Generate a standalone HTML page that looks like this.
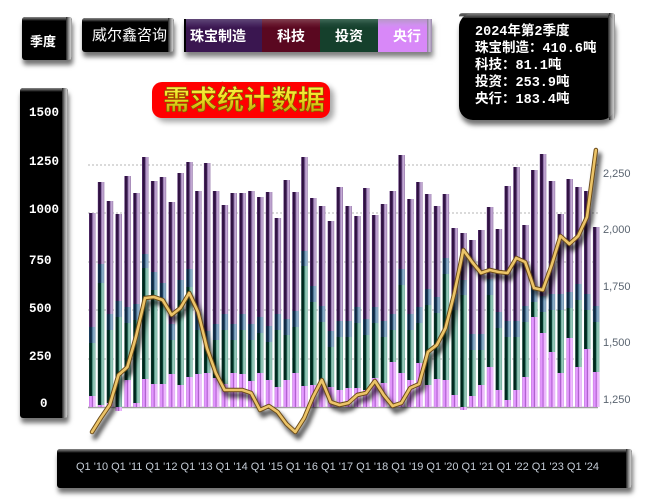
<!DOCTYPE html>
<html><head><meta charset="utf-8">
<style>
html,body{margin:0;padding:0;background:#fff;}
body{width:645px;height:502px;position:relative;overflow:hidden;font-family:"Liberation Sans","Noto Sans CJK SC",sans-serif;}
.bx{position:absolute;background:#000;box-shadow:1px 5px 5px rgba(0,0,0,0.55);border-radius:3px;}
.bx::before{content:"";position:absolute;left:0;right:0;top:0;height:4px;background:linear-gradient(to bottom,#8a8a8a,#3a3a3a 60%,rgba(0,0,0,0));border-radius:3px 3px 0 0;}
.bx::after{content:"";position:absolute;right:0;top:0;bottom:0;width:6px;background:linear-gradient(to right,#222,#9a9a9a 50%,#c8c8c8 80%,#888);border-radius:0 3px 3px 0;}
.wt{position:absolute;color:#fff;white-space:nowrap;}
.ax{position:absolute;color:#fff;white-space:nowrap;font:bold 12.5px "Liberation Mono",monospace;line-height:18px;}
.lg{position:absolute;color:#fff;white-space:nowrap;font:bold 14px "Noto Sans CJK SC",sans-serif;line-height:20px;top:26px;}
svg{position:absolute;left:0;top:0;}
</style></head><body>

<div class="bx" style="left:22px;top:17px;width:50px;height:43px;"></div>
<div class="wt" style="left:30px;top:32px;font:bold 13px 'Noto Sans CJK SC',sans-serif;line-height:18px;">季度</div>

<div class="bx" style="left:82px;top:18px;width:92px;height:34px;"></div>
<div class="wt" style="left:92px;top:25px;font:15px 'Noto Sans CJK SC',sans-serif;line-height:20px;">威尔鑫咨询</div>

<div style="position:absolute;left:184px;top:19px;width:248px;height:33px;box-shadow:1px 5px 5px rgba(0,0,0,0.5);background:#000;">
  <div style="position:absolute;left:2px;top:0;width:76px;height:33px;background:linear-gradient(to bottom,#604878 0,#4a2a62 5px,#3a1650 9px,#3a1650);"></div>
  <div style="position:absolute;left:78px;top:0;width:58px;height:33px;background:linear-gradient(to bottom,#804050 0,#6a1a30 5px,#5a0820 9px,#5a0820);"></div>
  <div style="position:absolute;left:136px;top:0;width:58px;height:33px;background:linear-gradient(to bottom,#406a58 0,#204a38 5px,#15402c 9px,#15402c);"></div>
  <div style="position:absolute;left:194px;top:0;width:49px;height:33px;background:linear-gradient(to bottom,#b898c8 0,#d090f0 6px,#d888f8 9px,#d888f8);"></div>
  <div style="position:absolute;left:243px;top:0;width:5px;height:33px;background:linear-gradient(to right,#8a7a98,#c8b8d8,#9a8aa8);"></div>
</div>
<div class="lg" style="left:190px;">珠宝制造</div>
<div class="lg" style="left:277px;">科技</div>
<div class="lg" style="left:335px;">投资</div>
<div class="lg" style="left:393px;">央行</div>

<div class="bx" style="left:459px;top:13px;width:156px;height:107px;border-radius:14px;"></div>
<div style="position:absolute;left:459px;top:13px;width:156px;height:107px;border-radius:14px;overflow:hidden;">
  <div style="position:absolute;left:0;right:0;top:0;height:5px;background:linear-gradient(to bottom,#8a8a8a,#2a2a2a);"></div>
  <div style="position:absolute;right:0;top:0;bottom:0;width:7px;background:linear-gradient(to right,#222,#9a9a9a 50%,#c8c8c8 80%,#888);"></div>
  <div style="position:absolute;left:6px;right:7px;top:5px;bottom:0;background:#000;border-radius:10px;"></div>
</div>
<div class="wt" style="left:475px;top:24px;font:bold 13.5px 'Liberation Mono','Noto Sans CJK SC',monospace;line-height:17px;">2024年第2季度<br>珠宝制造：410.6吨<br>科技：81.1吨<br>投资：253.9吨<br>央行：183.4吨</div>

<div class="bx" style="left:20px;top:88px;width:48px;height:330px;"></div>
<div class="ax" style="left:29px;top:104px;">1500</div>
<div class="ax" style="left:29px;top:153px;">1250</div>
<div class="ax" style="left:29px;top:201px;">1000</div>
<div class="ax" style="left:29px;top:252px;">750</div>
<div class="ax" style="left:29px;top:300px;">500</div>
<div class="ax" style="left:29px;top:348px;">250</div>
<div class="ax" style="left:40px;top:395px;">0</div>

<div class="bx" style="left:57px;top:449px;width:575px;height:39px;"></div>
<div class="wt" style="left:76px;top:459px;font:11px 'Liberation Sans',sans-serif;line-height:16px;color:#c4ccd6;">Q1 '10 Q1 '11 Q1 '12 Q1 '13 Q1 '14 Q1 '15 Q1 '16 Q1 '17 Q1 '18 Q1 '19 Q1 '20 Q1 '21 Q1 '22 Q1 '23 Q1 '24</div>

<svg width="645" height="502" viewBox="0 0 645 502" xmlns="http://www.w3.org/2000/svg" xmlns:xlink="http://www.w3.org/1999/xlink">
<defs>
<linearGradient id="gp" x1="0" x2="1" y1="0" y2="0">
<stop offset="0" stop-color="#6a4088"/><stop offset="0.15" stop-color="#2a0c3a"/><stop offset="0.45" stop-color="#3a1c50"/><stop offset="0.55" stop-color="#9878b0"/><stop offset="0.8" stop-color="#cdb6dc"/><stop offset="1" stop-color="#8a68a0"/>
</linearGradient>
<linearGradient id="gb" x1="0" x2="1" y1="0" y2="0">
<stop offset="0" stop-color="#305a80"/><stop offset="0.15" stop-color="#0a2038"/><stop offset="0.45" stop-color="#1a3a58"/><stop offset="0.55" stop-color="#6088a8"/><stop offset="0.8" stop-color="#98b8d0"/><stop offset="1" stop-color="#6080a0"/>
</linearGradient>
<linearGradient id="gg" x1="0" x2="1" y1="0" y2="0">
<stop offset="0" stop-color="#1a5040"/><stop offset="0.15" stop-color="#002018"/><stop offset="0.45" stop-color="#003828"/><stop offset="0.55" stop-color="#6aa898"/><stop offset="0.8" stop-color="#a0d0c0"/><stop offset="1" stop-color="#60a090"/>
</linearGradient>
<linearGradient id="gk" x1="0" x2="1" y1="0" y2="0">
<stop offset="0" stop-color="#b868d8"/><stop offset="0.15" stop-color="#e8a0ff"/><stop offset="0.42" stop-color="#d888f8"/><stop offset="0.5" stop-color="#8a40a8"/><stop offset="0.6" stop-color="#e8a0ff"/><stop offset="0.85" stop-color="#f4c8ff"/><stop offset="1" stop-color="#d090f0"/>
</linearGradient>
<linearGradient id="ty" x1="0" x2="0" y1="0" y2="1">
<stop offset="0" stop-color="#ffff60"/><stop offset="0.5" stop-color="#f0e020"/><stop offset="1" stop-color="#b09000"/>
</linearGradient>
<filter id="bl" x="-20%" y="-20%" width="140%" height="140%"><feGaussianBlur stdDeviation="2"/></filter>
<filter id="bl3" x="-20%" y="-40%" width="140%" height="180%"><feGaussianBlur stdDeviation="3"/></filter>
<polyline id="gl" points="92,432 100.8,418 109.7,405 118.5,375 127.4,367 136.2,336 145,298 153.9,297 162.7,300 171.6,315 180.4,308 189.2,293 198.1,312 206.9,348 215.8,373 224.6,390 233.4,390 242.3,390 251.1,393 260,410 268.8,406 277.6,412 286.5,424 295.3,432 304.2,418 313,397 321.8,380 330.7,402 339.5,405 348.4,403 357.2,395 366,393 374.9,381 383.7,395 392.6,406 401.4,403 410.2,388 419.1,384 427.9,352 436.8,345 445.6,328 454.4,293 463.3,250 472.1,262 481,273 489.8,270 498.6,272 507.5,273 516.3,258 525.2,262 534,288 542.8,290 551.7,265 560.5,236 569.4,244 578.2,236 587,217 595.9,150"/>
</defs>

<rect x="156" y="86" width="178" height="36" rx="10" fill="#000" opacity="0.35" filter="url(#bl3)"/>
<rect x="152" y="82" width="178" height="36" rx="10" fill="#f00"/>
<text x="244" y="109.5" text-anchor="middle" font-family="Noto Sans CJK SC, sans-serif" font-weight="bold" font-size="27" fill="#f00" stroke="#f00" stroke-width="8" stroke-linejoin="round">需求统计数据</text>
<text x="244" y="109.5" text-anchor="middle" font-family="Noto Sans CJK SC, sans-serif" font-weight="bold" font-size="27" fill="url(#ty)" stroke="#7a5a00" stroke-width="0.6">需求统计数据</text>

<g stroke="#b4b4b4" stroke-width="1" stroke-dasharray="2,2">
<line x1="88" y1="165" x2="598" y2="165"/>
<line x1="88" y1="213" x2="598" y2="213"/>
<line x1="88" y1="262" x2="598" y2="262"/>
<line x1="88" y1="310" x2="598" y2="310"/>
<line x1="88" y1="359" x2="598" y2="359"/>
</g>
<line x1="88" y1="407.5" x2="598" y2="407.5" stroke="#a0a0a0" stroke-width="1.5"/>

<g font-family="Liberation Sans, sans-serif" font-size="11" fill="#5a6470">
<text x="603" y="177">2,250</text>
<text x="603" y="233">2,000</text>
<text x="603" y="290">1,750</text>
<text x="603" y="346">1,500</text>
<text x="603" y="403">1,250</text>
</g>

<g>
<g transform="translate(89.0,0)"><rect y="213" width="6.5" height="114" fill="url(#gp)"/><rect y="327" width="6.5" height="16" fill="url(#gb)"/><rect y="343" width="6.5" height="53" fill="url(#gg)"/><rect y="396" width="6.5" height="11" fill="url(#gk)"/></g>
<g transform="translate(97.8,0)"><rect y="182" width="6.5" height="82" fill="url(#gp)"/><rect y="264" width="6.5" height="19" fill="url(#gb)"/><rect y="283" width="6.5" height="122" fill="url(#gg)"/><rect y="405" width="6.5" height="2" fill="url(#gk)"/></g>
<g transform="translate(106.7,0)"><rect y="201" width="6.5" height="113" fill="url(#gp)"/><rect y="314" width="6.5" height="16" fill="url(#gb)"/><rect y="330" width="6.5" height="73" fill="url(#gg)"/><rect y="403" width="6.5" height="4" fill="url(#gk)"/></g>
<g transform="translate(115.5,0)"><rect y="214" width="6.5" height="87" fill="url(#gp)"/><rect y="301" width="6.5" height="16" fill="url(#gb)"/><rect y="317" width="6.5" height="90" fill="url(#gg)"/><rect y="407" width="6.5" height="4" fill="url(#gk)"/></g>
<g transform="translate(124.4,0)"><rect y="176" width="6.5" height="131" fill="url(#gp)"/><rect y="307" width="6.5" height="16" fill="url(#gb)"/><rect y="323" width="6.5" height="57" fill="url(#gg)"/><rect y="380" width="6.5" height="27" fill="url(#gk)"/></g>
<g transform="translate(133.2,0)"><rect y="193" width="6.5" height="111" fill="url(#gp)"/><rect y="304" width="6.5" height="16" fill="url(#gb)"/><rect y="320" width="6.5" height="83" fill="url(#gg)"/><rect y="403" width="6.5" height="4" fill="url(#gk)"/></g>
<g transform="translate(142.0,0)"><rect y="157" width="6.5" height="97" fill="url(#gp)"/><rect y="254" width="6.5" height="14" fill="url(#gb)"/><rect y="268" width="6.5" height="111" fill="url(#gg)"/><rect y="379" width="6.5" height="28" fill="url(#gk)"/></g>
<g transform="translate(150.9,0)"><rect y="181" width="6.5" height="91" fill="url(#gp)"/><rect y="272" width="6.5" height="18" fill="url(#gb)"/><rect y="290" width="6.5" height="94" fill="url(#gg)"/><rect y="384" width="6.5" height="23" fill="url(#gk)"/></g>
<g transform="translate(159.7,0)"><rect y="177" width="6.5" height="106" fill="url(#gp)"/><rect y="283" width="6.5" height="17" fill="url(#gb)"/><rect y="300" width="6.5" height="84" fill="url(#gg)"/><rect y="384" width="6.5" height="23" fill="url(#gk)"/></g>
<g transform="translate(168.6,0)"><rect y="202" width="6.5" height="122" fill="url(#gp)"/><rect y="324" width="6.5" height="16" fill="url(#gb)"/><rect y="340" width="6.5" height="34" fill="url(#gg)"/><rect y="374" width="6.5" height="33" fill="url(#gk)"/></g>
<g transform="translate(177.4,0)"><rect y="173" width="6.5" height="107" fill="url(#gp)"/><rect y="280" width="6.5" height="20" fill="url(#gb)"/><rect y="300" width="6.5" height="85" fill="url(#gg)"/><rect y="385" width="6.5" height="22" fill="url(#gk)"/></g>
<g transform="translate(186.2,0)"><rect y="162" width="6.5" height="107" fill="url(#gp)"/><rect y="269" width="6.5" height="18" fill="url(#gb)"/><rect y="287" width="6.5" height="90" fill="url(#gg)"/><rect y="377" width="6.5" height="30" fill="url(#gk)"/></g>
<g transform="translate(195.1,0)"><rect y="191" width="6.5" height="123" fill="url(#gp)"/><rect y="314" width="6.5" height="16" fill="url(#gb)"/><rect y="330" width="6.5" height="44" fill="url(#gg)"/><rect y="374" width="6.5" height="33" fill="url(#gk)"/></g>
<g transform="translate(203.9,0)"><rect y="163" width="6.5" height="168" fill="url(#gp)"/><rect y="331" width="6.5" height="16" fill="url(#gb)"/><rect y="347" width="6.5" height="26" fill="url(#gg)"/><rect y="373" width="6.5" height="34" fill="url(#gk)"/></g>
<g transform="translate(212.8,0)"><rect y="191" width="6.5" height="133" fill="url(#gp)"/><rect y="324" width="6.5" height="16" fill="url(#gb)"/><rect y="340" width="6.5" height="38" fill="url(#gg)"/><rect y="378" width="6.5" height="29" fill="url(#gk)"/></g>
<g transform="translate(221.6,0)"><rect y="205" width="6.5" height="109" fill="url(#gp)"/><rect y="314" width="6.5" height="16" fill="url(#gb)"/><rect y="330" width="6.5" height="54" fill="url(#gg)"/><rect y="384" width="6.5" height="23" fill="url(#gk)"/></g>
<g transform="translate(230.4,0)"><rect y="193" width="6.5" height="131" fill="url(#gp)"/><rect y="324" width="6.5" height="16" fill="url(#gb)"/><rect y="340" width="6.5" height="33" fill="url(#gg)"/><rect y="373" width="6.5" height="34" fill="url(#gk)"/></g>
<g transform="translate(239.3,0)"><rect y="193" width="6.5" height="121" fill="url(#gp)"/><rect y="314" width="6.5" height="16" fill="url(#gb)"/><rect y="330" width="6.5" height="44" fill="url(#gg)"/><rect y="374" width="6.5" height="33" fill="url(#gk)"/></g>
<g transform="translate(248.1,0)"><rect y="191" width="6.5" height="133" fill="url(#gp)"/><rect y="324" width="6.5" height="16" fill="url(#gb)"/><rect y="340" width="6.5" height="41" fill="url(#gg)"/><rect y="381" width="6.5" height="26" fill="url(#gk)"/></g>
<g transform="translate(257.0,0)"><rect y="197" width="6.5" height="120" fill="url(#gp)"/><rect y="317" width="6.5" height="16" fill="url(#gb)"/><rect y="333" width="6.5" height="40" fill="url(#gg)"/><rect y="373" width="6.5" height="34" fill="url(#gk)"/></g>
<g transform="translate(265.8,0)"><rect y="192" width="6.5" height="134" fill="url(#gp)"/><rect y="326" width="6.5" height="16" fill="url(#gb)"/><rect y="342" width="6.5" height="38" fill="url(#gg)"/><rect y="380" width="6.5" height="27" fill="url(#gk)"/></g>
<g transform="translate(274.6,0)"><rect y="218" width="6.5" height="96" fill="url(#gp)"/><rect y="314" width="6.5" height="16" fill="url(#gb)"/><rect y="330" width="6.5" height="57" fill="url(#gg)"/><rect y="387" width="6.5" height="20" fill="url(#gk)"/></g>
<g transform="translate(283.5,0)"><rect y="180" width="6.5" height="139" fill="url(#gp)"/><rect y="319" width="6.5" height="16" fill="url(#gb)"/><rect y="335" width="6.5" height="45" fill="url(#gg)"/><rect y="380" width="6.5" height="27" fill="url(#gk)"/></g>
<g transform="translate(292.3,0)"><rect y="192" width="6.5" height="119" fill="url(#gp)"/><rect y="311" width="6.5" height="16" fill="url(#gb)"/><rect y="327" width="6.5" height="46" fill="url(#gg)"/><rect y="373" width="6.5" height="34" fill="url(#gk)"/></g>
<g transform="translate(301.2,0)"><rect y="157" width="6.5" height="94" fill="url(#gp)"/><rect y="251" width="6.5" height="15" fill="url(#gb)"/><rect y="266" width="6.5" height="120" fill="url(#gg)"/><rect y="386" width="6.5" height="21" fill="url(#gk)"/></g>
<g transform="translate(310.0,0)"><rect y="198" width="6.5" height="88" fill="url(#gp)"/><rect y="286" width="6.5" height="16" fill="url(#gb)"/><rect y="302" width="6.5" height="83" fill="url(#gg)"/><rect y="385" width="6.5" height="22" fill="url(#gk)"/></g>
<g transform="translate(318.8,0)"><rect y="206" width="6.5" height="100" fill="url(#gp)"/><rect y="306" width="6.5" height="16" fill="url(#gb)"/><rect y="322" width="6.5" height="61" fill="url(#gg)"/><rect y="383" width="6.5" height="24" fill="url(#gk)"/></g>
<g transform="translate(327.7,0)"><rect y="221" width="6.5" height="110" fill="url(#gp)"/><rect y="331" width="6.5" height="16" fill="url(#gb)"/><rect y="347" width="6.5" height="40" fill="url(#gg)"/><rect y="387" width="6.5" height="20" fill="url(#gk)"/></g>
<g transform="translate(336.5,0)"><rect y="187" width="6.5" height="134" fill="url(#gp)"/><rect y="321" width="6.5" height="16" fill="url(#gb)"/><rect y="337" width="6.5" height="53" fill="url(#gg)"/><rect y="390" width="6.5" height="17" fill="url(#gk)"/></g>
<g transform="translate(345.4,0)"><rect y="206" width="6.5" height="115" fill="url(#gp)"/><rect y="321" width="6.5" height="16" fill="url(#gb)"/><rect y="337" width="6.5" height="51" fill="url(#gg)"/><rect y="388" width="6.5" height="19" fill="url(#gk)"/></g>
<g transform="translate(354.2,0)"><rect y="216" width="6.5" height="91" fill="url(#gp)"/><rect y="307" width="6.5" height="16" fill="url(#gb)"/><rect y="323" width="6.5" height="65" fill="url(#gg)"/><rect y="388" width="6.5" height="19" fill="url(#gk)"/></g>
<g transform="translate(363.0,0)"><rect y="188" width="6.5" height="131" fill="url(#gp)"/><rect y="319" width="6.5" height="16" fill="url(#gb)"/><rect y="335" width="6.5" height="55" fill="url(#gg)"/><rect y="390" width="6.5" height="17" fill="url(#gk)"/></g>
<g transform="translate(371.9,0)"><rect y="215" width="6.5" height="92" fill="url(#gp)"/><rect y="307" width="6.5" height="16" fill="url(#gb)"/><rect y="323" width="6.5" height="55" fill="url(#gg)"/><rect y="378" width="6.5" height="29" fill="url(#gk)"/></g>
<g transform="translate(380.7,0)"><rect y="204" width="6.5" height="117" fill="url(#gp)"/><rect y="321" width="6.5" height="16" fill="url(#gb)"/><rect y="337" width="6.5" height="46" fill="url(#gg)"/><rect y="383" width="6.5" height="24" fill="url(#gk)"/></g>
<g transform="translate(389.6,0)"><rect y="191" width="6.5" height="123" fill="url(#gp)"/><rect y="314" width="6.5" height="16" fill="url(#gb)"/><rect y="330" width="6.5" height="32" fill="url(#gg)"/><rect y="362" width="6.5" height="45" fill="url(#gk)"/></g>
<g transform="translate(398.4,0)"><rect y="155" width="6.5" height="114" fill="url(#gp)"/><rect y="269" width="6.5" height="16" fill="url(#gb)"/><rect y="285" width="6.5" height="88" fill="url(#gg)"/><rect y="373" width="6.5" height="34" fill="url(#gk)"/></g>
<g transform="translate(407.2,0)"><rect y="199" width="6.5" height="115" fill="url(#gp)"/><rect y="314" width="6.5" height="16" fill="url(#gb)"/><rect y="330" width="6.5" height="50" fill="url(#gg)"/><rect y="380" width="6.5" height="27" fill="url(#gk)"/></g>
<g transform="translate(416.1,0)"><rect y="182" width="6.5" height="125" fill="url(#gp)"/><rect y="307" width="6.5" height="16" fill="url(#gb)"/><rect y="323" width="6.5" height="40" fill="url(#gg)"/><rect y="363" width="6.5" height="44" fill="url(#gk)"/></g>
<g transform="translate(424.9,0)"><rect y="194" width="6.5" height="95" fill="url(#gp)"/><rect y="289" width="6.5" height="16" fill="url(#gb)"/><rect y="305" width="6.5" height="80" fill="url(#gg)"/><rect y="385" width="6.5" height="22" fill="url(#gk)"/></g>
<g transform="translate(433.8,0)"><rect y="206" width="6.5" height="91" fill="url(#gp)"/><rect y="297" width="6.5" height="16" fill="url(#gb)"/><rect y="313" width="6.5" height="66" fill="url(#gg)"/><rect y="379" width="6.5" height="28" fill="url(#gk)"/></g>
<g transform="translate(442.6,0)"><rect y="194" width="6.5" height="64" fill="url(#gp)"/><rect y="258" width="6.5" height="16" fill="url(#gb)"/><rect y="274" width="6.5" height="106" fill="url(#gg)"/><rect y="380" width="6.5" height="27" fill="url(#gk)"/></g>
<g transform="translate(451.4,0)"><rect y="228" width="6.5" height="66" fill="url(#gp)"/><rect y="294" width="6.5" height="16" fill="url(#gb)"/><rect y="310" width="6.5" height="85" fill="url(#gg)"/><rect y="395" width="6.5" height="12" fill="url(#gk)"/></g>
<g transform="translate(460.3,0)"><rect y="233" width="6.5" height="47" fill="url(#gp)"/><rect y="280" width="6.5" height="15" fill="url(#gb)"/><rect y="295" width="6.5" height="112" fill="url(#gg)"/><rect y="407" width="6.5" height="3" fill="url(#gk)"/></g>
<g transform="translate(469.1,0)"><rect y="240" width="6.5" height="94" fill="url(#gp)"/><rect y="334" width="6.5" height="16" fill="url(#gb)"/><rect y="350" width="6.5" height="46" fill="url(#gg)"/><rect y="396" width="6.5" height="11" fill="url(#gk)"/></g>
<g transform="translate(478.0,0)"><rect y="230" width="6.5" height="104" fill="url(#gp)"/><rect y="334" width="6.5" height="16" fill="url(#gb)"/><rect y="350" width="6.5" height="35" fill="url(#gg)"/><rect y="385" width="6.5" height="22" fill="url(#gk)"/></g>
<g transform="translate(486.8,0)"><rect y="207" width="6.5" height="72" fill="url(#gp)"/><rect y="279" width="6.5" height="16" fill="url(#gb)"/><rect y="295" width="6.5" height="72" fill="url(#gg)"/><rect y="367" width="6.5" height="40" fill="url(#gk)"/></g>
<g transform="translate(495.6,0)"><rect y="229" width="6.5" height="83" fill="url(#gp)"/><rect y="312" width="6.5" height="16" fill="url(#gb)"/><rect y="328" width="6.5" height="62" fill="url(#gg)"/><rect y="390" width="6.5" height="17" fill="url(#gk)"/></g>
<g transform="translate(504.5,0)"><rect y="186" width="6.5" height="135" fill="url(#gp)"/><rect y="321" width="6.5" height="16" fill="url(#gb)"/><rect y="337" width="6.5" height="63" fill="url(#gg)"/><rect y="400" width="6.5" height="7" fill="url(#gk)"/></g>
<g transform="translate(513.3,0)"><rect y="167" width="6.5" height="154" fill="url(#gp)"/><rect y="321" width="6.5" height="16" fill="url(#gb)"/><rect y="337" width="6.5" height="53" fill="url(#gg)"/><rect y="390" width="6.5" height="17" fill="url(#gk)"/></g>
<g transform="translate(522.2,0)"><rect y="225" width="6.5" height="81" fill="url(#gp)"/><rect y="306" width="6.5" height="16" fill="url(#gb)"/><rect y="322" width="6.5" height="55" fill="url(#gg)"/><rect y="377" width="6.5" height="30" fill="url(#gk)"/></g>
<g transform="translate(531.0,0)"><rect y="170" width="6.5" height="116" fill="url(#gp)"/><rect y="286" width="6.5" height="16" fill="url(#gb)"/><rect y="302" width="6.5" height="15" fill="url(#gg)"/><rect y="317" width="6.5" height="90" fill="url(#gk)"/></g>
<g transform="translate(539.8,0)"><rect y="154" width="6.5" height="142" fill="url(#gp)"/><rect y="296" width="6.5" height="16" fill="url(#gb)"/><rect y="312" width="6.5" height="21" fill="url(#gg)"/><rect y="333" width="6.5" height="74" fill="url(#gk)"/></g>
<g transform="translate(548.7,0)"><rect y="181" width="6.5" height="113" fill="url(#gp)"/><rect y="294" width="6.5" height="16" fill="url(#gb)"/><rect y="310" width="6.5" height="42" fill="url(#gg)"/><rect y="352" width="6.5" height="55" fill="url(#gk)"/></g>
<g transform="translate(557.5,0)"><rect y="214" width="6.5" height="80" fill="url(#gp)"/><rect y="294" width="6.5" height="16" fill="url(#gb)"/><rect y="310" width="6.5" height="63" fill="url(#gg)"/><rect y="373" width="6.5" height="34" fill="url(#gk)"/></g>
<g transform="translate(566.4,0)"><rect y="179" width="6.5" height="113" fill="url(#gp)"/><rect y="292" width="6.5" height="16" fill="url(#gb)"/><rect y="308" width="6.5" height="30" fill="url(#gg)"/><rect y="338" width="6.5" height="69" fill="url(#gk)"/></g>
<g transform="translate(575.2,0)"><rect y="187" width="6.5" height="97" fill="url(#gp)"/><rect y="284" width="6.5" height="16" fill="url(#gb)"/><rect y="300" width="6.5" height="67" fill="url(#gg)"/><rect y="367" width="6.5" height="40" fill="url(#gk)"/></g>
<g transform="translate(584.0,0)"><rect y="191" width="6.5" height="103" fill="url(#gp)"/><rect y="294" width="6.5" height="16" fill="url(#gb)"/><rect y="310" width="6.5" height="39" fill="url(#gg)"/><rect y="349" width="6.5" height="58" fill="url(#gk)"/></g>
<g transform="translate(592.9,0)"><rect y="227" width="6.5" height="79" fill="url(#gp)"/><rect y="306" width="6.5" height="16" fill="url(#gb)"/><rect y="322" width="6.5" height="50" fill="url(#gg)"/><rect y="372" width="6.5" height="35" fill="url(#gk)"/></g>
</g>

<g fill="none" stroke-linejoin="round" stroke-linecap="round">
<use xlink:href="#gl" href="#gl" transform="translate(3,5)" filter="url(#bl)" stroke="#000" stroke-opacity="0.65" stroke-width="5.5"/>
<use xlink:href="#gl" href="#gl" stroke="#6a4a18" stroke-width="4.5"/>
<use xlink:href="#gl" href="#gl" stroke="#ecc468" stroke-width="2.6"/>
</g>
</svg>
</body></html>
